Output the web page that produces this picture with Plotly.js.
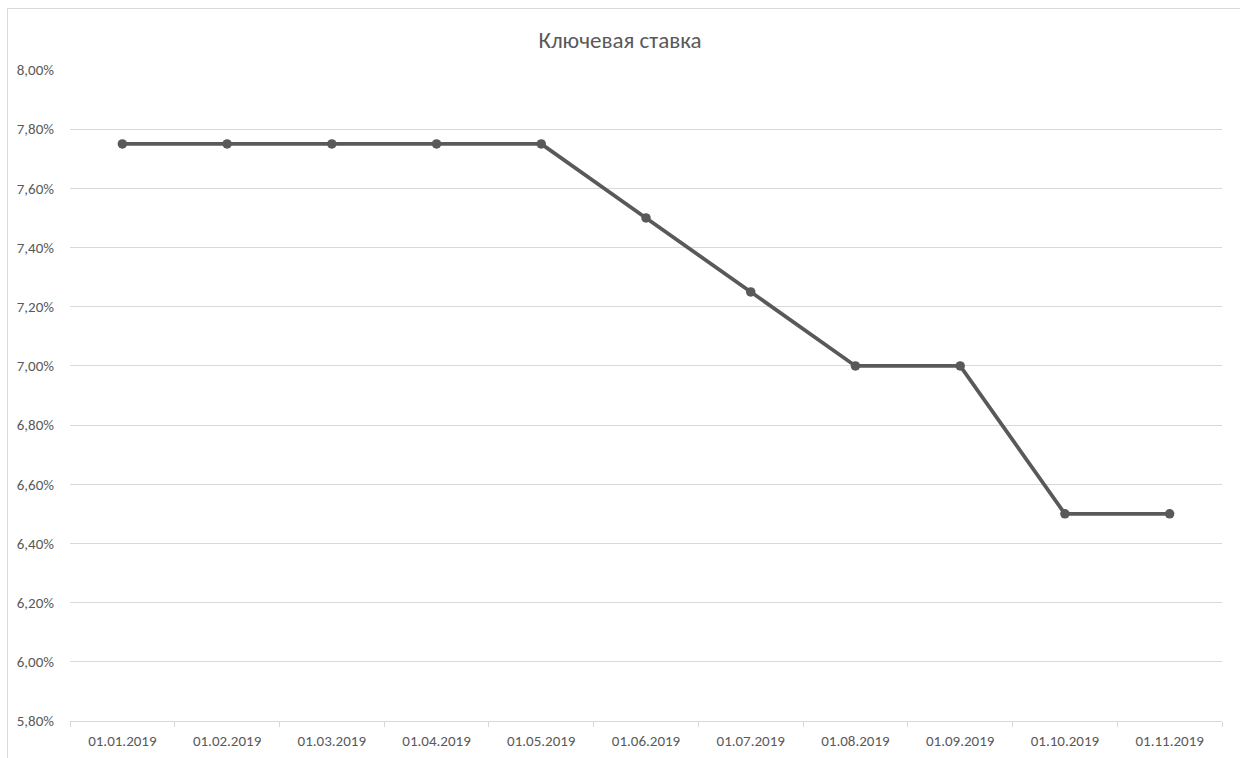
<!DOCTYPE html>
<html>
<head>
<meta charset="utf-8">
<script src="https://cdn.plot.ly/plotly-3.0.1.min.js"></script>
<style>
  html, body { margin: 0; padding: 0; background: #ffffff; overflow: hidden; }
  #wrap { position: relative; width: 1240px; height: 758px; }
  #frame { position: absolute; left: 7px; top: 8px; width: 1250px; height: 800px; border: 1px solid #d9d9d9; box-sizing: border-box; pointer-events: none; }
  #chart { position: absolute; left: 0; top: 0; width: 1240px; height: 758px; }
</style>
</head>
<body>
<div id="wrap">
  <div id="chart"></div>
  <div id="frame"></div>
</div>
<script>
const categories = ["01.01.2019", "01.02.2019", "01.03.2019", "01.04.2019", "01.05.2019", "01.06.2019", "01.07.2019", "01.08.2019", "01.09.2019", "01.10.2019", "01.11.2019"];
const keyRate = [0.0775, 0.0775, 0.0775, 0.0775, 0.0775, 0.075, 0.0725, 0.07, 0.07, 0.065, 0.065];
const chartTitle = "Ключевая ставка";

const font = "Carlito, Calibri, 'Open Sans', 'Liberation Sans', sans-serif";

const trace = {
  x: categories,
  y: keyRate,
  type: "scatter",
  mode: "lines+markers",
  line: { color: "#595959", width: 3.75 },
  marker: { color: "#595959", size: 9.5 },
  hoverinfo: "x+y"
};

const layout = {
  width: 1240,
  height: 758,
  paper_bgcolor: "rgba(0,0,0,0)",
  plot_bgcolor: "rgba(0,0,0,0)",
  separators: ", ",
  margin: { l: 70, r: 18, t: 70, b: 37 },
  showlegend: false,
  title: {
    text: chartTitle,
    font: { family: font, size: 23, color: "#595959" },
    x: 0.5, xref: "container", xanchor: "center",
    y: 1 - 40 / 758, yref: "container", yanchor: "middle"
  },
  xaxis: {
    type: "category",
    range: [-0.5, categories.length - 0.5],
    tickson: "boundaries",
    ticks: "outside",
    ticklen: 5,
    tickcolor: "#d9d9d9",
    tickwidth: 1,
    ticklabelstandoff: 6,
    showline: true,
    linecolor: "#d9d9d9",
    linewidth: 1,
    showgrid: false,
    zeroline: false,
    tickfont: { family: font, size: 15, color: "#595959" },
    fixedrange: true
  },
  yaxis: {
    range: [0.058, 0.08],
    dtick: 0.002,
    tick0: 0.058,
    tickformat: ".2%",
    showgrid: true,
    gridcolor: "#d9d9d9",
    gridwidth: 1,
    zeroline: false,
    showline: false,
    ticks: "outside",
    ticklen: 12,
    tickcolor: "rgba(0,0,0,0)",
    tickfont: { family: font, size: 15, color: "#595959" },
    fixedrange: true
  }
};

Plotly.newPlot("chart", [trace], layout, { displayModeBar: false, staticPlot: true });
</script>
</body>
</html>
